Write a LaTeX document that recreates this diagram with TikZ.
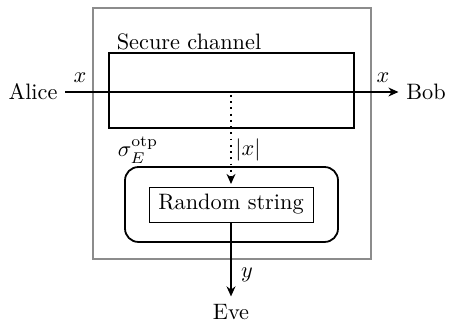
\documentclass[tikz,border=0pt]{standalone}
\usetikzlibrary{arrows.meta}
\begin{document}
\begin{tikzpicture}[x=0.4484pt,y=-0.4484pt,
  box/.style={draw,thick,inner sep=0pt},
  arr/.style={thick,-{Stealth[length=4.5pt,width=4pt]}},
  lbl/.style={inner sep=0pt}]
\useasboundingbox (0,0) rectangle (451,322);
\node[draw=gray!90,line width=0.8pt,minimum width=124.7pt,minimum height=112.5pt,inner sep=0pt] (outer) at (232,133.5) {};
\node[box,minimum width=110pt,minimum height=33.6pt] (chan) at (231.3,90.5) {};
\node[box,rounded corners=6pt,minimum width=95.5pt,minimum height=33.6pt] (rbox) at (231.5,204.5) {};
\node[draw,line width=0.4pt,minimum width=73.5pt,minimum height=15.7pt,inner sep=0pt] (rs) at (231,204.5) {Random string};
\node (alice) at (33,92) {Alice};
\node (bob) at (426,92) {Bob};
\node (eve) at (231,312) {Eve};
\node[lbl] (sc) at (189,42) {Secure channel};
\node[lbl] (xl) at (80,78) {$x$};
\node[lbl] (xr) at (383,78) {$x$};
\node[lbl] (abx) at (248,150) {$|x|$};
\node[lbl] (sig) at (138,150) {$\sigma_E^{\mathrm{otp}}$};
\node[lbl] (yl) at (247,275) {$y$};
\coordinate (dtop) at (231,95);
\coordinate (dbot) at (231,184);
\draw[arr] (alice.east) -- (bob.west);
\draw[arr,dotted] (dtop) -- (dbot);
\draw[arr] (rs.south) -- (eve.north);
\end{tikzpicture}
\end{document}
